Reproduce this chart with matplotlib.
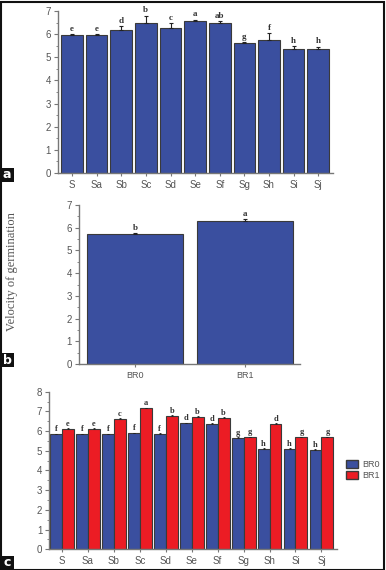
import matplotlib
matplotlib.use("Agg")
import matplotlib.pyplot as plt
from matplotlib.patches import Rectangle, Patch
from matplotlib.ticker import MultipleLocator
import numpy as np

# ---- data ----
cats = ["S", "Sa", "Sb", "Sc", "Sd", "Se", "Sf", "Sg", "Sh", "Si", "Sj"]
a_vals = [5.95, 5.95, 6.19, 6.50, 6.28, 6.55, 6.50, 5.63, 5.73, 5.37, 5.34]
a_err = [0.05, 0.05, 0.15, 0.30, 0.20, 0.08, 0.08, 0.03, 0.30, 0.10, 0.12]
a_letters = ["e", "e", "d", "b", "c", "a", "ab", "g", "f", "h", "h"]

b_cats = ["BR0", "BR1"]
b_vals = [5.71, 6.30]
b_err = [0.05, 0.08]
b_letters = ["b", "a"]

c_br0 = [5.84, 5.84, 5.84, 5.89, 5.87, 6.40, 6.36, 5.65, 5.09, 5.09, 5.04]
c_br1 = [6.11, 6.12, 6.62, 7.16, 6.77, 6.73, 6.68, 5.69, 6.36, 5.69, 5.69]
c_br0_err = [0.03, 0.03, 0.03, 0.03, 0.03, 0.03, 0.03, 0.03, 0.03, 0.03, 0.03]
c_br1_err = [0.03, 0.03, 0.03, 0.03, 0.03, 0.03, 0.03, 0.03, 0.03, 0.03, 0.03]
c_br0_letters = ["f", "f", "f", "f", "f", "d", "d", "g", "h", "h", "h"]
c_br1_letters = ["e", "e", "c", "a", "b", "b", "b", "g", "d", "g", "g"]

BLUE = "#3a4f9f"
RED = "#ec1c24"
EDGE = "#3a3a3a"
GRAY = "#555555"
SERIF = ["Liberation Serif", "DejaVu Serif"]
SANS = ["Liberation Sans", "DejaVu Sans"]

plt.rcParams["font.family"] = SANS

W, H = 386, 570
fig = plt.figure(figsize=(W / 100, H / 100), dpi=100)


def ax_px(left, right, top, bottom):
    return fig.add_axes([left / W, (H - bottom) / H, (right - left) / W, (bottom - top) / H])


def style(ax, ymax):
    for s in ["top", "right"]:
        ax.spines[s].set_visible(False)
    for s in ["left", "bottom"]:
        ax.spines[s].set_color("#777777")
        ax.spines[s].set_linewidth(1.0)
    ax.set_ylim(0, ymax)
    ax.yaxis.set_major_locator(MultipleLocator(1))
    ax.yaxis.set_minor_locator(MultipleLocator(0.5))
    ax.tick_params(axis="y", which="major", length=3, width=0.8, color="#777777",
                   labelsize=7, labelcolor=GRAY, pad=2)
    ax.tick_params(axis="y", which="minor", length=1.5, width=0.6, color="#777777")
    ax.tick_params(axis="x", length=2, width=0.8, color="#777777",
                   labelsize=7, labelcolor=GRAY, pad=3)


# ---- panel a ----
axa = ax_px(58, 333, 11, 173)
xa = np.arange(len(cats))
axa.bar(xa, a_vals, width=0.88, color=BLUE, edgecolor=EDGE, linewidth=0.8)
axa.errorbar(xa, a_vals, yerr=[np.zeros(len(a_err)), a_err], fmt="none",
             ecolor="#222222", elinewidth=0.8, capsize=1.5, capthick=0.8)
for x, v, e, t in zip(xa, a_vals, a_err, a_letters):
    axa.text(x, v + e + 0.05, t, ha="center", va="bottom", fontsize=6.5,
             family=SERIF, fontweight="bold", color="#333333")
axa.set_xlim(-0.57, 10.6)
axa.set_xticks(xa)
axa.set_xticklabels(cats)
style(axa, 7)

# ---- panel b ----
axb = ax_px(79, 300, 205, 364)
xb = np.arange(len(b_cats))
axb.bar(xb, b_vals, width=0.88, color=BLUE, edgecolor=EDGE, linewidth=0.8)
axb.errorbar(xb, b_vals, yerr=[np.zeros(2), b_err], fmt="none",
             ecolor="#222222", elinewidth=0.8, capsize=1.5, capthick=0.8)
for x, v, e, t in zip(xb, b_vals, b_err, b_letters):
    axb.text(x, v + e + 0.05, t, ha="center", va="bottom", fontsize=6.5,
             family=SERIF, fontweight="bold", color="#333333")
axb.set_xlim(-0.51, 1.5)
axb.set_xticks(xb)
axb.set_xticklabels(b_cats)
style(axb, 7)
axb.tick_params(axis="x", labelsize=6.5)
fig.text(12 / W, (H - 272) / H, "Velocity of germination", rotation=90,
         ha="center", va="center", fontsize=9, family=SERIF, color=GRAY)

# ---- panel c ----
axc = ax_px(49.3, 337, 391.7, 549.3)
xc = np.arange(len(cats))
bw = 0.46
axc.bar(xc - bw / 2, c_br0, width=bw, color=BLUE, edgecolor=EDGE, linewidth=0.8, label="BR0")
axc.bar(xc + bw / 2, c_br1, width=bw, color=RED, edgecolor=EDGE, linewidth=0.8, label="BR1")
axc.errorbar(xc - bw / 2, c_br0, yerr=[np.zeros(len(c_br0)), c_br0_err], fmt="none",
             ecolor="#222222", elinewidth=0.6, capsize=1, capthick=0.6)
axc.errorbar(xc + bw / 2, c_br1, yerr=[np.zeros(len(c_br1)), c_br1_err], fmt="none",
             ecolor="#222222", elinewidth=0.6, capsize=1, capthick=0.6)
for x, v, t in zip(xc - bw / 2, c_br0, c_br0_letters):
    axc.text(x, v + 0.04, t, ha="center", va="bottom", fontsize=6,
             family=SERIF, fontweight="bold", color="#333333")
for x, v, t in zip(xc + bw / 2, c_br1, c_br1_letters):
    axc.text(x, v + 0.04, t, ha="center", va="bottom", fontsize=6,
             family=SERIF, fontweight="bold", color="#333333")
axc.set_xlim(-0.49, 10.6)
axc.set_xticks(xc)
axc.set_xticklabels(cats)
style(axc, 8)
leg = fig.legend(handles=[Patch(facecolor=BLUE, edgecolor=EDGE, label="BR0"),
                          Patch(facecolor=RED, edgecolor=EDGE, label="BR1")],
                 loc="center left", bbox_to_anchor=(340 / W, (H - 470) / H),
                 frameon=False, fontsize=6.5, handlelength=1.3, handleheight=1.0,
                 handletextpad=0.5, labelspacing=0.3, borderpad=0.2)
for t in leg.get_texts():
    t.set_color(GRAY)

# ---- panel labels ----
for lab, top in [("a", 168), ("b", 353), ("c", 556)]:
    fig.add_artist(Rectangle((0, (H - top - 14) / H), 14 / W, 14 / H,
                             transform=fig.transFigure, facecolor="#111111",
                             edgecolor="none", zorder=5))
    fig.text(7 / W, (H - top - 7) / H, lab, ha="center", va="center",
             color="white", fontsize=9, fontweight="bold", zorder=6,
             family=["DejaVu Sans"])

# ---- outer frame ----
fig.add_artist(Rectangle((0.5 / W, 0.5 / H), (W - 2.5) / W, (H - 2.5) / H,
                         transform=fig.transFigure, facecolor="none",
                         edgecolor="#111111", linewidth=1.5, zorder=10))

fig.savefig("out.png", dpi=100)
